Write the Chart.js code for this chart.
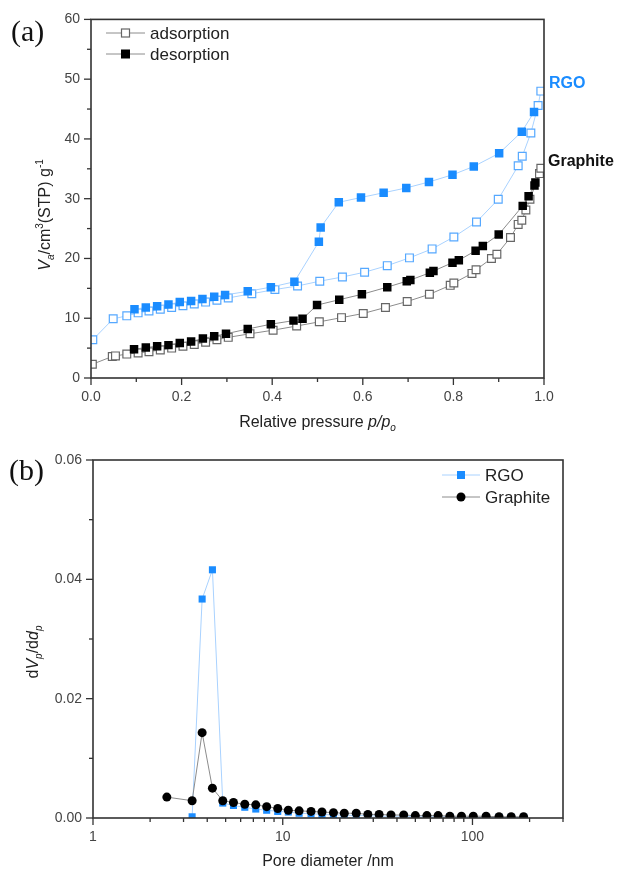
<!DOCTYPE html>
<html>
<head>
<meta charset="utf-8">
<script src="https://cdn.jsdelivr.net/npm/chart.js@4"></script>
<style>
    body { margin: 0; background: #fff; }
    #wrap { position: relative; width: 619px; height: 869px; }
    #chartA { position: absolute; left: 0; top: 0; }
    #chartB { position: absolute; left: 0; top: 432px; }
</style>
</head>
<body>
<div id="wrap">
    <canvas id="chartA" width="619" height="432"></canvas>
    <canvas id="chartB" width="619" height="437"></canvas>
</div>
<script>
// (a) N2 isotherms, relative pressure p/po vs volume adsorbed
const pRgoAds = [0.004, 0.049, 0.079, 0.104, 0.128, 0.153, 0.178, 0.203, 0.228, 0.253, 0.278, 0.303, 0.355, 0.406, 0.456, 0.505, 0.555, 0.604, 0.654, 0.703, 0.753, 0.801, 0.851, 0.899, 0.943, 0.952, 0.971, 0.987, 0.993];
const vRgoAds = [6.4, 9.9, 10.4, 10.9, 11.2, 11.5, 11.8, 12.1, 12.4, 12.7, 13.0, 13.4, 14.1, 14.8, 15.4, 16.2, 16.9, 17.7, 18.8, 20.1, 21.6, 23.6, 26.1, 29.9, 35.5, 37.1, 41.0, 45.6, 48.0];

const pRgoDes = [0.096, 0.121, 0.146, 0.171, 0.196, 0.221, 0.246, 0.272, 0.296, 0.346, 0.397, 0.449, 0.503, 0.507, 0.547, 0.596, 0.646, 0.696, 0.746, 0.798, 0.845, 0.901, 0.951, 0.978];
const vRgoDes = [11.5, 11.8, 12.0, 12.3, 12.7, 12.9, 13.2, 13.6, 13.9, 14.5, 15.2, 16.1, 22.8, 25.2, 29.4, 30.2, 31.0, 31.8, 32.8, 34.0, 35.4, 37.6, 41.2, 44.5];

const pGraAds = [0.003, 0.047, 0.054, 0.079, 0.104, 0.128, 0.153, 0.178, 0.203, 0.228, 0.253, 0.278, 0.303, 0.351, 0.402, 0.454, 0.504, 0.553, 0.601, 0.650, 0.698, 0.747, 0.793, 0.801, 0.841, 0.850, 0.884, 0.896, 0.926, 0.943, 0.951, 0.960, 0.969, 0.990, 0.993];
const vGraAds = [2.3, 3.6, 3.7, 4.0, 4.2, 4.4, 4.7, 5.0, 5.3, 5.6, 6.0, 6.4, 6.8, 7.4, 8.0, 8.7, 9.4, 10.1, 10.8, 11.8, 12.8, 14.0, 15.5, 15.9, 17.5, 18.1, 20.0, 20.7, 23.5, 25.7, 26.4, 28.1, 29.9, 34.2, 35.1];

const pGraDes = [0.095, 0.121, 0.146, 0.171, 0.196, 0.221, 0.247, 0.272, 0.298, 0.346, 0.397, 0.447, 0.467, 0.499, 0.548, 0.598, 0.654, 0.697, 0.705, 0.748, 0.756, 0.798, 0.812, 0.849, 0.865, 0.900, 0.953, 0.966, 0.979, 0.981];
const vGraDes = [4.8, 5.1, 5.3, 5.5, 5.85, 6.1, 6.6, 7.0, 7.4, 8.2, 9.0, 9.6, 9.9, 12.2, 13.1, 14.0, 15.2, 16.2, 16.4, 17.6, 17.9, 19.3, 19.7, 21.3, 22.1, 24.0, 28.8, 30.4, 32.2, 32.7];

// (b) pore size distribution
const dGra = [2.45, 3.33, 3.76, 4.26, 4.83, 5.50, 6.31, 7.21, 8.23, 9.41, 10.7, 12.2, 14.1, 16.1, 18.5, 21.1, 24.4, 28.1, 32.2, 37.2, 43.4, 50.0, 57.5, 65.9, 76.0, 87.5, 101, 118, 138, 160, 186];
const yGra = [0.0035, 0.0029, 0.0143, 0.0050, 0.0029, 0.0026, 0.0023, 0.0022, 0.0019, 0.0016, 0.0013, 0.0012, 0.0011, 0.0010, 0.0009, 0.0008, 0.0008, 0.0006, 0.0006, 0.0005, 0.0005, 0.0004, 0.0004, 0.0004, 0.0003, 0.0003, 0.0003, 0.0003, 0.0002, 0.0002, 0.0002];

const dRgo = [3.33, 3.76, 4.26, 4.83, 5.50, 6.31, 7.21, 8.23, 9.41, 10.7, 12.2, 14.1, 16.1, 18.5, 21.1, 24.4, 28.1, 32.2, 37.2, 43.4, 50.0, 57.5, 65.9, 76.0, 87.5, 101, 118, 138, 160, 186];
const yRgo = [0.0002, 0.0367, 0.0416, 0.0025, 0.0021, 0.0018, 0.0015, 0.0013, 0.0011, 0.0010, 0.0008, 0.0007, 0.0006, 0.0005, 0.0005, 0.0004, 0.0004, 0.0003, 0.0003, 0.0003, 0.0002, 0.0002, 0.0002, 0.0002, 0.0001, 0.0001, 0.0001, 0.0001, 0.0001, 0.0001];

const FONT = "'Liberation Sans', Arial, sans-serif";
const SERIF = "'Liberation Serif', 'Times New Roman', serif";
const BLUE = "#1a8cff";
const BLUE_OPEN = "#55a8ff";
const BLUE_LINE = "#a9d2ff";
const GREY_LINE = "#8c8c8c";
const GREY_OPEN = "#666666";
const AXIS = "#333333";
const TICK_TXT = "#444444";

function toXY(xs, ys) {
    return xs.map((x, i) => ({ x: x, y: ys[i] }));
}

function fontFor(p, size) {
    let s = (p.sub || p.sup) ? Math.round(size * 0.62) : size;
    return (p.it ? "italic " : "") + (p.bold ? "bold " : "") + s + "px " + FONT;
}

// draws text made of parts (italic / sub / sup), centred on cx, baseline at by
function drawRich(ctx, parts, cx, by, size, angle) {
    ctx.save();
    ctx.translate(cx, by);
    ctx.rotate(angle || 0);
    let total = 0;
    parts.forEach((p) => {
        ctx.font = fontFor(p, size);
        total += ctx.measureText(p.t).width;
    });
    let x = -total / 2;
    ctx.textAlign = "left";
    ctx.textBaseline = "alphabetic";
    ctx.fillStyle = "#222";
    parts.forEach((p) => {
        ctx.font = fontFor(p, size);
        let dy = p.sub ? size * 0.25 : p.sup ? -size * 0.45 : 0;
        ctx.fillText(p.t, x, dy);
        x += ctx.measureText(p.t).width;
    });
    ctx.restore();
}

function frame(ctx, a) {
    ctx.save();
    ctx.strokeStyle = AXIS;
    ctx.lineWidth = 1.6;
    ctx.strokeRect(a.left, a.top, a.right - a.left, a.bottom - a.top);
    ctx.restore();
}

function tick(ctx, x1, y1, x2, y2) {
    ctx.beginPath();
    ctx.moveTo(x1, y1);
    ctx.lineTo(x2, y2);
    ctx.stroke();
}

function legendRow(ctx, y, x0, x1, lineColor, drawMarker, text) {
    ctx.save();
    ctx.strokeStyle = lineColor;
    ctx.lineWidth = 1;
    tick(ctx, x0, y, x1, y);
    drawMarker((x0 + x1) / 2, y);
    ctx.fillStyle = "#222";
    ctx.font = "17px " + FONT;
    ctx.textBaseline = "middle";
    ctx.fillText(text, x1 + 5, y + 1);
    ctx.restore();
}

const decorA = {
    id: "decorA",
    afterDraw(chart) {
        const ctx = chart.ctx;
        const a = chart.chartArea;
        const xs = chart.scales.x;
        const ys = chart.scales.y;
        frame(ctx, a);

        ctx.save();
        ctx.strokeStyle = AXIS;
        ctx.lineWidth = 1.3;
        for (let i = 0; i <= 12; i++) {
            let py = ys.getPixelForValue(i * 5);
            tick(ctx, a.left, py, a.left - (i % 2 === 0 ? 7 : 4), py);
        }
        for (let i = 0; i <= 10; i++) {
            let px = xs.getPixelForValue(i / 10);
            tick(ctx, px, a.bottom, px, a.bottom + (i % 2 === 0 ? 7 : 4));
        }
        ctx.restore();

        drawRich(ctx, [
            { t: "Relative pressure " },
            { t: "p/p", it: true },
            { t: "o", it: true, sub: true }
        ], (a.left + a.right) / 2, 427, 16);

        drawRich(ctx, [
            { t: "V", it: true },
            { t: "a", it: true, sub: true },
            { t: "/cm" },
            { t: "3", sup: true },
            { t: "(STP) g" },
            { t: "-1", sup: true }
        ], 50, 215, 16, -Math.PI / 2);

        // legend
        legendRow(ctx, 33, 106, 145, GREY_LINE, (x, y) => {
            ctx.fillStyle = "#fff";
            ctx.strokeStyle = GREY_OPEN;
            ctx.lineWidth = 1.2;
            ctx.fillRect(x - 4, y - 4, 8, 8);
            ctx.strokeRect(x - 4, y - 4, 8, 8);
        }, "adsorption");
        legendRow(ctx, 54, 106, 145, GREY_LINE, (x, y) => {
            ctx.fillStyle = "#000";
            ctx.fillRect(x - 4.5, y - 4.5, 9, 9);
        }, "desorption");

        // sample labels at right
        ctx.save();
        ctx.font = "bold 16px " + FONT;
        ctx.textBaseline = "alphabetic";
        ctx.fillStyle = BLUE;
        ctx.fillText("RGO", 549, 88);
        ctx.fillStyle = "#111";
        ctx.fillText("Graphite", 548, 166);
        ctx.font = "30px " + SERIF;
        ctx.fillText("(a)", 11, 41);
        ctx.restore();
    }
};

const decorB = {
    id: "decorB",
    afterDraw(chart) {
        const ctx = chart.ctx;
        const a = chart.chartArea;
        const xs = chart.scales.x;
        const ys = chart.scales.y;
        frame(ctx, a);

        ctx.save();
        ctx.strokeStyle = AXIS;
        ctx.lineWidth = 1.3;
        for (let i = 0; i <= 6; i++) {
            let py = ys.getPixelForValue(i * 0.01);
            tick(ctx, a.left, py, a.left - (i % 2 === 0 ? 7 : 4), py);
        }
        [1, 10, 100].forEach((dec) => {
            for (let k = 1; k <= 9; k++) {
                let v = k * dec;
                if (v > 300) break;
                let px = xs.getPixelForValue(v);
                tick(ctx, px, a.bottom, px, a.bottom + (k === 1 ? 7 : 4));
            }
        });
        ctx.restore();

        drawRich(ctx, [{ t: "Pore diameter /nm" }], (a.left + a.right) / 2, 434, 16);
        drawRich(ctx, [
            { t: "d" },
            { t: "V", it: true },
            { t: "p", it: true, sub: true },
            { t: "/d" },
            { t: "d", it: true },
            { t: "p", it: true, sub: true }
        ], 38, 220, 16, -Math.PI / 2);

        legendRow(ctx, 43, 442, 480, BLUE_LINE, (x, y) => {
            ctx.fillStyle = BLUE;
            ctx.fillRect(x - 4, y - 4, 8, 8);
        }, "RGO");
        legendRow(ctx, 65, 442, 480, GREY_LINE, (x, y) => {
            ctx.fillStyle = "#000";
            ctx.beginPath();
            ctx.arc(x, y, 4.5, 0, Math.PI * 2);
            ctx.fill();
        }, "Graphite");

        ctx.save();
        ctx.font = "30px " + SERIF;
        ctx.fillStyle = "#111";
        ctx.fillText("(b)", 9, 48);
        ctx.restore();
    }
};

const tickFont = { family: FONT, size: 14 };

const chartA = new Chart(document.getElementById("chartA"), {
    type: "scatter",
    data: {
        datasets: [
            {
                label: "RGO desorption",
                data: toXY(pRgoDes, vRgoDes),
                showLine: true,
                borderColor: BLUE_LINE,
                borderWidth: 1,
                pointStyle: "rect",
                pointRadius: 6,
                pointBackgroundColor: BLUE,
                pointBorderColor: BLUE,
                pointBorderWidth: 0,
            },
            {
                label: "Graphite desorption",
                data: toXY(pGraDes, vGraDes),
                showLine: true,
                borderColor: GREY_LINE,
                borderWidth: 1,
                pointStyle: "rect",
                pointRadius: 6,
                pointBackgroundColor: "#000",
                pointBorderColor: "#000",
                pointBorderWidth: 0,
            },
            {
                label: "RGO adsorption",
                data: toXY(pRgoAds, vRgoAds),
                showLine: true,
                borderColor: BLUE_LINE,
                borderWidth: 1,
                pointStyle: "rect",
                pointRadius: 5.5,
                pointBackgroundColor: "#fff",
                pointBorderColor: BLUE_OPEN,
                pointBorderWidth: 1.2,
            },
            {
                label: "Graphite adsorption",
                data: toXY(pGraAds, vGraAds),
                showLine: true,
                borderColor: GREY_LINE,
                borderWidth: 1,
                pointStyle: "rect",
                pointRadius: 5.5,
                pointBackgroundColor: "#fff",
                pointBorderColor: GREY_OPEN,
                pointBorderWidth: 1.2,
            },
        ],
    },
    options: {
        responsive: false,
        animation: false,
        layout: { padding: { left: 0, top: 19, right: 75, bottom: 14 } },
        plugins: {
            legend: { display: false },
            tooltip: { enabled: false },
        },
        scales: {
            x: {
                type: "linear",
                min: 0,
                max: 1,
                grid: { display: false, drawTicks: false, tickLength: 0 },
                border: { display: false },
                ticks: {
                    stepSize: 0.2,
                    padding: 11,
                    maxRotation: 0,
                    color: TICK_TXT,
                    font: tickFont,
                    callback: (v) => v.toFixed(1),
                },
                afterFit: (s) => { s.height = 40; },
            },
            y: {
                type: "linear",
                min: 0,
                max: 60,
                grid: { display: false, drawTicks: false, tickLength: 0 },
                border: { display: false },
                ticks: {
                    stepSize: 10,
                    padding: 11,
                    color: TICK_TXT,
                    font: tickFont,
                },
                afterFit: (s) => { s.width = 91; },
            },
        },
    },
    plugins: [decorA],
});

const chartB = new Chart(document.getElementById("chartB"), {
    type: "scatter",
    data: {
        datasets: [
            {
                label: "Graphite",
                data: toXY(dGra, yGra),
                showLine: true,
                borderColor: GREY_LINE,
                borderWidth: 1,
                pointStyle: "circle",
                pointRadius: 4.5,
                pointBackgroundColor: "#000",
                pointBorderColor: "#000",
                pointBorderWidth: 0,
            },
            {
                label: "RGO",
                data: toXY(dRgo, yRgo),
                showLine: true,
                borderColor: BLUE_LINE,
                borderWidth: 1,
                pointStyle: "rect",
                pointRadius: 5,
                pointBackgroundColor: BLUE,
                pointBorderColor: BLUE,
                pointBorderWidth: 0,
            },
        ],
    },
    options: {
        responsive: false,
        animation: false,
        layout: { padding: { left: 0, top: 28, right: 56, bottom: 11 } },
        plugins: {
            legend: { display: false },
            tooltip: { enabled: false },
        },
        scales: {
            x: {
                type: "logarithmic",
                min: 1,
                max: 300,
                grid: { display: false, drawTicks: false, tickLength: 0 },
                border: { display: false },
                ticks: {
                    autoSkip: false,
                    padding: 11,
                    maxRotation: 0,
                    color: TICK_TXT,
                    font: tickFont,
                    callback: (v) => ([1, 10, 100].includes(v) ? String(v) : ""),
                },
                afterFit: (s) => { s.height = 40; },
            },
            y: {
                type: "linear",
                min: 0,
                max: 0.06,
                grid: { display: false, drawTicks: false, tickLength: 0 },
                border: { display: false },
                ticks: {
                    stepSize: 0.02,
                    padding: 11,
                    color: TICK_TXT,
                    font: tickFont,
                    callback: (v) => v.toFixed(2),
                },
                afterFit: (s) => { s.width = 93; },
            },
        },
    },
    plugins: [decorB],
});
</script>
</body>
</html>
